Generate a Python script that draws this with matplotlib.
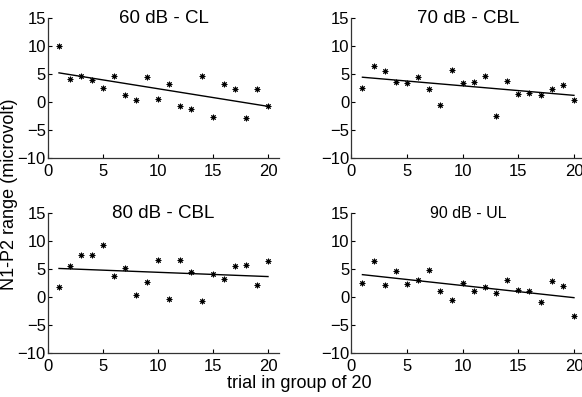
import matplotlib.pyplot as plt
import numpy as np

plt.rcParams['font.family'] = ['Liberation Sans', 'DejaVu Sans']

trial = np.arange(1, 21)

# N1-P2 range per trial, one list per level
cl_60 = [10.0, 4.05, 4.64, 3.93, 2.5, 4.64, 1.25, 0.42, 4.52, 0.54,
         3.2, -0.71, -1.19, 4.7, -2.68, 3.27, 2.32, -2.8, 2.32, -0.65]
cbl_70 = [2.5, 6.43, 5.48, 3.57, 3.45, 4.52, 2.26, -0.6, 5.65, 3.45,
          3.57, 4.64, -2.5, 3.69, 1.43, 1.6, 1.25, 2.32, 3.1, 0.3]
cbl_80 = [1.73, 5.54, 7.56, 7.5, 9.29, 3.81, 5.18, 0.36, 2.68, 6.67,
          -0.36, 6.55, 4.46, -0.71, 4.17, 3.21, 5.48, 5.71, 2.2, 6.43]
ul_90 = [2.5, 6.49, 2.2, 4.64, 2.32, 3.04, 4.82, 1.07, -0.54, 2.56,
         1.07, 1.85, 0.77, 3.04, 1.19, 1.07, -0.89, 2.92, 2.02, -3.39]

titles = ['60 dB - CL', '70 dB - CBL', '80 dB - CBL', '90 dB - UL']
title_sizes = [13.5, 13.5, 13.5, 11.5]
series = [cl_60, cbl_70, cbl_80, ul_90]

fig = plt.figure(figsize=(5.82, 3.97), dpi=100)
W, H = 582, 397
# axes boxes in pixels: left, top, width, height
boxes = [(48, 18, 231, 140), (351.3, 18, 233.8, 140),
         (48, 213, 231, 140), (351.3, 213, 233.8, 140)]

for box, y, t, ts in zip(boxes, series, titles, title_sizes):
    l, top, w, h = box
    ax = fig.add_axes([l / W, 1 - (top + h) / H, w / W, h / H])
    ax.plot(trial, y, marker=(8, 2, 0), ls='none', color='black',
            markersize=4, markeredgewidth=0.7)
    k, b = np.polyfit(trial, y, 1)
    ax.plot(trial, k * trial + b, '-', color='black', lw=1)
    ax.set_xlim(0, 21)
    ax.set_ylim(-10, 15)
    ax.set_xticks([0, 5, 10, 15, 20])
    ax.set_yticks([-10, -5, 0, 5, 10, 15])
    for s in ['top', 'right']:
        ax.spines[s].set_visible(False)
    for s in ['left', 'bottom']:
        ax.spines[s].set_color('#333333')
        ax.spines[s].set_linewidth(0.9)
    ax.tick_params(direction='in', length=3, width=0.8, labelsize=12)
    ax.tick_params(axis='x', pad=4)
    ax.tick_params(axis='y', pad=1.5)
    ax.text(0.5, 1.0, t, transform=ax.transAxes, ha='center', va='center',
            fontsize=ts)

fig.text(10 / W, 1 - 194 / H, 'N1-P2 range (microvolt)', rotation=90,
         ha='center', va='center', fontsize=13)
fig.text(299 / W, 1 - 383 / H, 'trial in group of 20',
         ha='center', va='center', fontsize=13)

fig.savefig('out.png', dpi=100)
